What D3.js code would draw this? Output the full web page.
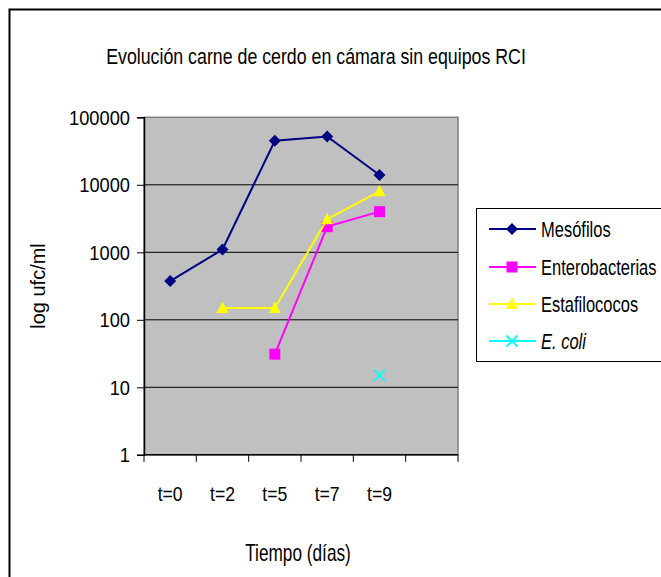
<!DOCTYPE html>
<html><head><meta charset="utf-8">
<script src="https://cdn.jsdelivr.net/npm/d3@7"></script>
<style>html,body{margin:0;padding:0;background:#fff;overflow:hidden}</style>
</head><body>
<svg id="c" width="661" height="577"></svg>
<script>
const categories = ["t=0","t=2","t=5","t=7","t=9",""];
const mesofilos = [375, 1100, 45000, 52000, 14000];
const enterobacterias = [null, null, 31, 2400, 4000];
const estafilococos = [null, 150, 150, 3100, 8000];
const ecoli = [null, null, null, null, 15];
const yTicks = [1, 10, 100, 1000, 10000, 100000];
const yTickLabels = ["1","10","100","1000","10000","100000"];
const seriesNames = ["Mesófilos","Enterobacterias","Estafilococos","E. coli"];
const titleText = "Evolución carne de cerdo en cámara sin equipos RCI";
const xTitle = "Tiempo (días)";
const yTitle = "log ufc/ml";

const FONT = "'Liberation Sans', Arial, sans-serif";
const svg = d3.select("#c");

// condensed text via horizontal scale transform
function ctext(parent, px, py, str, size, k, anchor) {
  const g = parent.append("g").attr("transform", `translate(${px},${py}) scale(${k},1)`);
  return g.append("text").attr("x", 0).attr("y", 0).text(str)
    .attr("font-family", FONT).attr("font-size", size).attr("fill", "#000")
    .attr("text-anchor", anchor || "start");
}

svg.append("rect").attr("x", 9.5).attr("y", 9.5).attr("width", 800).attr("height", 800)
  .attr("fill", "#fff").attr("stroke", "#000").attr("stroke-width", 2);

const L = 144, R = 458, T = 117.3, B = 454.8;
const x = d3.scaleBand().domain(categories).range([L, R]).padding(0);
const y = d3.scaleLog().domain([1, 100000]).range([B, T]);

svg.append("rect").attr("x", L).attr("y", T).attr("width", R - L).attr("height", B - T)
  .attr("fill", "#C0C0C0").attr("stroke", "#808080").attr("stroke-width", 1.5);

svg.append("g").selectAll("line").data(yTicks.slice(1, -1)).join("line")
  .attr("x1", L).attr("x2", R).attr("y1", d => y(d)).attr("y2", d => y(d))
  .attr("stroke", "#000").attr("stroke-width", 1);

// y axis (ticks + domain via d3 axis, labels condensed)
const yAxis = d3.axisLeft(y).tickValues(yTicks).tickSize(7).tickFormat("");
const gy = svg.append("g").attr("transform", `translate(${L},0)`).call(yAxis);
gy.select(".domain").attr("stroke", "#000").attr("stroke-width", 1.5);
gy.selectAll(".tick line").attr("stroke", "#000").attr("stroke-width", 1);
const gyl = svg.append("g");
yTicks.forEach((v, i) => {
  ctext(gyl, 130, y(v) + 7.5, yTickLabels[i], 21, 0.87, "end");
});

// x axis: ticks at category boundaries
const bounds = categories.map(c => x(c)).concat([R]);
const gx = svg.append("g");
gx.append("line").attr("x1", L).attr("x2", R).attr("y1", B).attr("y2", B)
  .attr("stroke", "#000").attr("stroke-width", 1.5);
gx.selectAll("line.t").data(bounds).join("line").attr("class", "t")
  .attr("x1", d => d).attr("x2", d => d).attr("y1", B).attr("y2", B + 7)
  .attr("stroke", "#000").attr("stroke-width", 1);
categories.filter(c => c !== "").forEach(c => {
  ctext(gx, x(c) + x.bandwidth() / 2, 501, c, 21, 0.84, "middle");
});

// titles
ctext(svg, 316, 64, titleText, 22.5, 0.79, "middle");
ctext(svg, 298, 561, xTitle, 23, 0.75, "middle");
svg.append("text").attr("transform", "translate(45,286) rotate(-90)")
  .attr("text-anchor", "middle").attr("font-family", FONT).attr("font-size", 20)
  .attr("fill", "#000").text(yTitle);

// series
const cx = i => x(categories[i]) + x.bandwidth() / 2;
const lineGen = d3.line().defined(d => d.v != null).x(d => cx(d.i)).y(d => y(d.v));
const series = [
  {name: seriesNames[0], vals: mesofilos, color: "#000080", marker: "diamond"},
  {name: seriesNames[1], vals: enterobacterias, color: "#FF00FF", marker: "square"},
  {name: seriesNames[2], vals: estafilococos, color: "#FFFF00", marker: "triangle"},
  {name: seriesNames[3], vals: ecoli, color: "#00FFFF", marker: "cross"}
];

function drawMarker(g, type, color, px, py) {
  if (type === "diamond") {
    g.append("path").attr("d", `M${px},${py-6}L${px+6},${py}L${px},${py+6}L${px-6},${py}Z`).attr("fill", color);
  } else if (type === "square") {
    g.append("rect").attr("x", px - 5.5).attr("y", py - 5.5).attr("width", 11).attr("height", 11).attr("fill", color);
  } else if (type === "triangle") {
    g.append("path").attr("d", `M${px},${py-6.5}L${px+6},${py+5}L${px-6},${py+5}Z`).attr("fill", color);
  } else if (type === "cross") {
    g.append("path").attr("d", `M${px-5.5},${py-5.5}L${px+5.5},${py+5.5}M${px+5.5},${py-5.5}L${px-5.5},${py+5.5}`)
      .attr("stroke", color).attr("stroke-width", 1.8).attr("fill", "none");
  }
}

series.forEach(s => {
  const pts = s.vals.map((v, i) => ({i, v}));
  const g = svg.append("g");
  g.append("path").datum(pts).attr("d", lineGen).attr("fill", "none")
    .attr("stroke", s.color).attr("stroke-width", 2);
  pts.filter(p => p.v != null).forEach(p => drawMarker(g, s.marker, s.color, cx(p.i), y(p.v)));
});

// legend
const lg = svg.append("g");
lg.append("rect").attr("x", 476.5).attr("y", 208.5).attr("width", 300).attr("height", 153)
  .attr("fill", "#fff").attr("stroke", "#000").attr("stroke-width", 1);
const legY = [229, 267, 304, 341];
series.forEach((s, i) => {
  const ly = legY[i];
  lg.append("line").attr("x1", 489).attr("x2", 536).attr("y1", ly).attr("y2", ly)
    .attr("stroke", s.color).attr("stroke-width", 2);
  drawMarker(lg, s.marker, s.color, 512, ly);
  const t = ctext(lg, 541, ly + 8, s.name, 22, 0.75, "start");
  if (i === 3) t.attr("font-style", "italic");
});
</script>
</body></html>
